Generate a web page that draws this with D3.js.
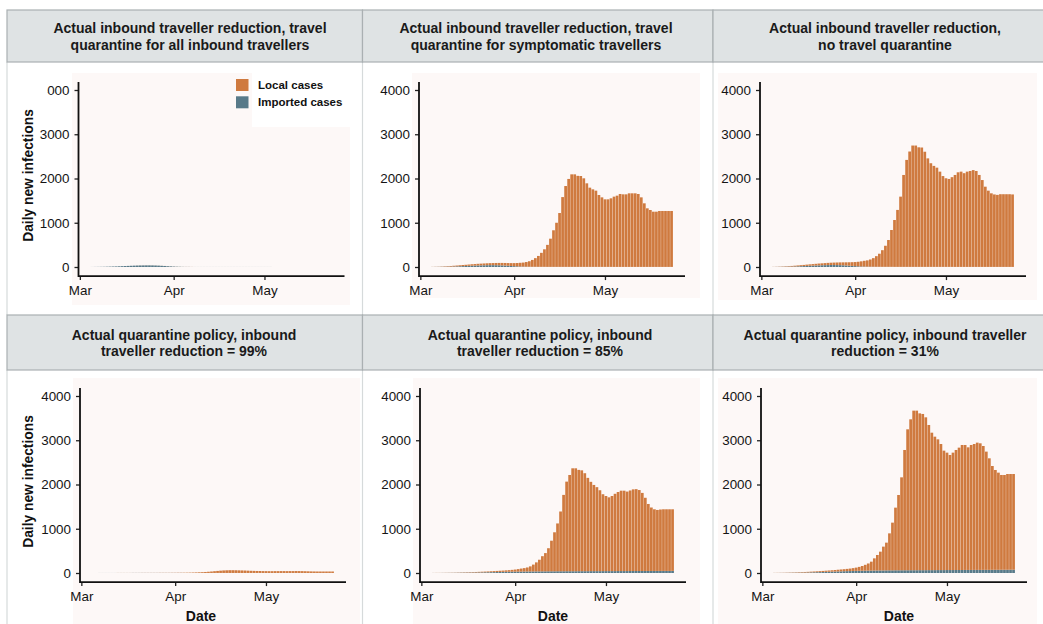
<!DOCTYPE html>
<html>
<head>
<meta charset="utf-8">
<script src="https://cdn.jsdelivr.net/npm/d3@7"></script>
<style>
  body { margin: 0; background: #ffffff; }
  svg { display: block; }
  text { font-family: "Liberation Sans", Arial, Helvetica, sans-serif; }
</style>
</head>
<body>
<svg id="chart" width="1043" height="624"></svg>
<script>
// ---- Data: daily new infections, 5 March to 23 May 2020 ----
const firstDay = "2020-03-05";
const lastDay = "2020-05-23";
const monthTicks = ["2020-03-01", "2020-04-01", "2020-05-01"];
const yTicks = [0, 1000, 2000, 3000, 4000];
const seriesNames = ["Local cases", "Imported cases"];

const panelTitles = [
  ["Actual inbound traveller reduction, travel", "quarantine for all inbound travellers"],
  ["Actual inbound traveller reduction, travel", "quarantine for symptomatic travellers"],
  ["Actual inbound traveller reduction,", "no travel quarantine"],
  ["Actual quarantine policy, inbound", "traveller reduction = 99%"],
  ["Actual quarantine policy, inbound", "traveller reduction = 85%"],
  ["Actual quarantine policy, inbound traveller", "reduction = 31%"]
];

// Travel quarantine for all inbound travellers
const localAllQuarantine = [
  0,0,0,0,0,0,0,0,0,0, 0,0,0,0,0,1,1,1,1,1,
  1,1,1,1,1,1,1,1,1,1, 1,1,1,1,0,0,0,0,0,0,
  0,0,0,0,0,0,0,0,0,0, 0,0,0,0,0,0,0,0,0,0,
  0,0,0,0,0,0,0,0,0,0, 0,0,0,0,0,0,0,0,0,0];
const importedAllQuarantine = [
  1,2,3,4,5,7,9,11,13,16, 19,22,25,28,31,33,35,36,37,37,
  36,34,31,27,23,18,14,10,7,5, 3,2,2,1,1,1,1,1,1,1,
  1,1,1,1,1,1,1,1,1,1, 1,1,1,1,1,1,1,1,1,1,
  0,0,0,0,0,0,0,0,0,0, 0,0,0,0,0,0,0,0,0,0];

// Travel quarantine for symptomatic travellers
const localSymptomatic = [
  2,3,4,6,9,11,14,17,19,22, 25,27,30,33,35,37,39,41,43,45,
  47,50,53,56,59,61,65,69,75,84, 91,105,124,155,195,246,316,396,497,637,
  827,997,1217,1577,1827,1987,2091,2091,2057,2053, 2001,1888,1790,1752,1722,1624,1571,1526,1526,1549,
  1588,1610,1648,1640,1640,1663,1663,1663,1648,1572, 1437,1324,1286,1248,1248,1264,1264,1264,1264,1264];
const importedSymptomatic = [
  1,2,3,4,5,7,9,11,14,17, 20,23,26,29,32,35,37,39,41,42,
  42,41,39,36,32,28,23,19,15,11, 9,7,6,5,5,4,4,4,3,3,
  3,3,3,3,3,3,3,3,3,3, 3,3,3,3,3,3,3,3,3,3,
  2,2,2,2,2,2,2,2,2,2, 2,2,2,2,2,2,2,2,2,2];

// No travel quarantine
const localNoQuarantine = [
  2,3,5,7,9,11,14,17,20,23, 26,30,32,35,38,41,43,46,49,52,
  55,58,62,66,71,77,84,92,102,116, 130,142,163,194,240,295,376,476,606,832,
  1059,1287,1587,2077,2417,2607,2742,2742,2702,2697, 2602,2452,2342,2282,2242,2152,2052,2002,1987,2027,
  2078,2138,2153,2118,2153,2168,2188,2168,2078,1963, 1813,1723,1663,1638,1628,1643,1643,1643,1643,1638];
const importedNoQuarantine = [
  1,2,3,4,6,8,10,12,15,18, 21,24,28,31,34,37,40,42,44,45,
  45,44,42,39,35,30,25,20,16,12, 10,8,7,6,5,5,4,4,4,4,
  3,3,3,3,3,3,3,3,3,3, 3,3,3,3,3,3,3,3,3,3,
  2,2,2,2,2,2,2,2,2,2, 2,2,2,2,2,2,2,2,2,2];

// Actual quarantine policy, inbound traveller reduction = 99%
const localReduction99 = [
  0,0,0,0,0,0,0,0,1,1, 1,1,1,1,1,1,2,2,2,2,
  2,2,3,3,3,3,4,4,5,5, 6,7,8,10,12,15,18,22,27,33,
  40,46,52,57,60,62,62,61,59,57, 55,52,49,47,45,44,42,41,40,40,
  41,41,42,42,41,42,42,43,42,41, 39,37,35,34,33,33,33,33,33,33];
const importedReduction99 = [
  0,0,1,1,1,1,1,1,1,1, 1,1,1,2,2,2,2,2,2,2,
  2,2,2,2,2,2,2,2,2,2, 1,1,1,1,1,1,1,1,1,1,
  1,1,1,1,1,1,1,1,1,1, 1,1,1,1,1,1,1,1,1,1,
  1,1,1,1,1,1,1,1,1,1, 1,1,1,1,1,1,1,1,1,1];

// Actual quarantine policy, inbound traveller reduction = 85%
const localReduction85 = [
  1,2,2,2,3,3,4,4,5,6, 7,8,9,10,11,13,15,16,18,20,
  23,25,28,30,34,37,42,48,57,68, 77,91,115,155,204,264,343,413,522,692,
  882,1081,1351,1726,2025,2175,2326,2326,2289,2279, 2214,2109,2018,1948,1898,1828,1737,1697,1667,1697,
  1747,1786,1816,1816,1796,1820,1845,1850,1830,1765, 1654,1514,1434,1394,1378,1388,1393,1393,1393,1392];
const importedReduction85 = [
  1,1,1,2,2,3,3,4,5,6, 7,8,9,10,12,13,14,16,17,19,
  20,22,23,25,26,28,29,30,31,32, 33,34,35,35,36,36,37,37,38,38,
  38,39,39,39,40,40,40,40,41,41, 41,41,42,42,42,42,43,43,43,43,
  43,44,44,44,44,45,45,45,45,45, 46,46,46,46,47,47,47,47,47,48];

// Actual quarantine policy, inbound traveller reduction = 31%
const localReduction31 = [
  2,3,3,4,5,6,7,8,10,11, 13,14,16,18,20,22,25,27,30,32,
  36,39,43,46,51,56,64,74,88,106, 132,161,201,275,350,424,538,627,836,1078,
  1416,1702,2100,2718,3185,3410,3606,3606,3544,3530, 3454,3280,3106,3016,2955,2849,2699,2653,2600,2653,
  2712,2765,2825,2824,2771,2824,2845,2876,2861,2799, 2672,2521,2346,2256,2196,2142,2142,2164,2163,2163];
const importedReduction31 = [
  1,1,2,2,3,4,5,6,7,9, 10,12,14,16,18,20,22,25,27,30,
  32,35,37,40,42,44,46,48,50,52, 53,54,55,56,57,58,58,59,60,60,
  61,61,62,62,62,63,63,63,64,64, 64,65,65,65,66,66,66,67,67,67,
  68,68,68,69,69,69,70,70,70,71, 71,71,72,72,72,73,73,73,74,74];

const panelLocal = [localAllQuarantine, localSymptomatic, localNoQuarantine,
                    localReduction99, localReduction85, localReduction31];
const panelImported = [importedAllQuarantine, importedSymptomatic, importedNoQuarantine,
                       importedReduction99, importedReduction85, importedReduction31];

// ---- Layout and styling ----
const colours = { local: "#cf7a3f", imported: "#587a89" };
const stripFill = "#dfe3e4", stripLine = "#aab0b2";
const plotFill = "#fdf8f7";
const fontStack = "\"Liberation Sans\", Arial, Helvetica, sans-serif";

const columns = [{ x0: 7, x1: 362.5 }, { x0: 362.5, x1: 713 }, { x0: 713, x1: 1062 }];
const rows = [
  { stripTop: 10, stripBottom: 62, line1: 33.3, zeroY: 267, bodyBottom: 315 },
  { stripTop: 315, stripBottom: 370, line1: 339.6, zeroY: 573, bodyBottom: 624 }
];
const panels = [
  { row: 0, col: 0, axisX: 78.5, titleX: 190, bg: [72, 73, 350, 305] },
  { row: 0, col: 1, axisX: 419, titleX: 536, bg: [412, 73, 700, 298] },
  { row: 0, col: 2, axisX: 760, titleX: 885, bg: [718, 73, 1037, 300] },
  { row: 1, col: 0, axisX: 80, titleX: 184, dateX: 201, bg: [73, 378, 360, 624] },
  { row: 1, col: 1, axisX: 420, titleX: 540, dateX: 553, bg: [413, 378, 700, 624] },
  { row: 1, col: 2, axisX: 761, titleX: 885, dateX: 899, bg: [718, 378, 1037, 624] }
];
const plotWidth = 266;      // x-axis line length
const px4000 = 177;         // pixels spanned by 0..4000

const parse = d3.utcParse("%Y-%m-%d");
const days = d3.utcDay.range(parse(firstDay), d3.utcDay.offset(parse(lastDay), 1));
const dayMs = 864e5;

const svg = d3.select("#chart");

// Panel bodies: left rule and soft plot background
panels.forEach(p => {
  const r = rows[p.row], c = columns[p.col];
  svg.append("line")
    .attr("x1", c.x0).attr("x2", c.x0)
    .attr("y1", r.stripBottom).attr("y2", r.bodyBottom)
    .attr("stroke", "#d6dadb").attr("stroke-width", 1.2);
  svg.append("rect")
    .attr("x", p.bg[0]).attr("y", p.bg[1])
    .attr("width", p.bg[2] - p.bg[0]).attr("height", p.bg[3] - p.bg[1])
    .attr("fill", plotFill);
});

// Facet strips with two-line titles
panels.forEach((p, i) => {
  const r = rows[p.row], c = columns[p.col];
  svg.append("rect")
    .attr("x", c.x0).attr("y", r.stripTop)
    .attr("width", c.x1 - c.x0).attr("height", r.stripBottom - r.stripTop)
    .attr("fill", stripFill).attr("stroke", stripLine).attr("stroke-width", 1.2);
  const t = svg.append("text")
    .attr("text-anchor", "middle")
    .attr("font-size", 14).attr("font-weight", "bold").attr("fill", "#1a1a1a");
  panelTitles[i].forEach((line, k) => {
    t.append("tspan").attr("x", p.titleX).attr("y", r.line1 + k * 16.4).text(line);
  });
});

// Bars, axes and labels
panels.forEach((p, i) => {
  const r = rows[p.row];
  const rowsData = days.map((d, k) => ({ date: d, imported: panelImported[i][k], local: panelLocal[i][k] }));
  const stacked = d3.stack().keys(["imported", "local"])(rowsData);

  // 5% expansion around the bar extent
  const lo = +days[0] - 0.45 * dayMs, hi = +days[days.length - 1] + 0.45 * dayMs;
  const pad = 0.05 * (hi - lo);
  const x = d3.scaleUtc().domain([new Date(lo - pad), new Date(hi + pad)])
    .range([p.axisX, p.axisX + plotWidth]);
  const y = d3.scaleLinear().domain([0, 4000]).range([r.zeroY, r.zeroY - px4000]);
  const bw = (x(new Date(+days[0] + dayMs)) - x(days[0])) * 0.9;

  const g = svg.append("g");
  g.selectAll("g.series").data(stacked).join("g")
    .attr("fill", s => colours[s.key])
    .selectAll("rect").data(s => s).join("rect")
    .attr("x", d => x(d.data.date) - bw / 2)
    .attr("width", bw)
    .attr("y", d => y(d[1]))
    .attr("height", d => Math.max(0, y(d[0]) - y(d[1])));

  const yTop = y(4180), yBottom = y(-205);

  // y axis
  const ya = svg.append("g").attr("transform", `translate(${p.axisX},0)`)
    .call(d3.axisLeft(y).tickValues(yTicks).tickSize(4).tickPadding(5).tickFormat(d3.format("d")));
  ya.select(".domain").remove();
  ya.selectAll(".tick line").attr("stroke", "#222").attr("stroke-width", 1.3);
  ya.selectAll(".tick text").attr("font-size", 13.4).attr("fill", "#141414")
    .attr("font-family", fontStack);

  // x axis
  const xa = svg.append("g").attr("transform", `translate(0,${yBottom})`)
    .call(d3.axisBottom(x).tickValues(monthTicks.map(parse)).tickSize(4).tickPadding(5)
      .tickFormat(d3.utcFormat("%b")));
  xa.select(".domain").remove();
  xa.selectAll(".tick line").attr("stroke", "#222").attr("stroke-width", 1.3);
  xa.selectAll(".tick text").attr("font-size", 13.4).attr("fill", "#141414")
    .attr("font-family", fontStack);

  // axis lines
  svg.append("path")
    .attr("d", `M${p.axisX},${yTop}V${yBottom}H${p.axisX + plotWidth}`)
    .attr("fill", "none").attr("stroke", "#111").attr("stroke-width", 1.8);

  if (p.col === 0) {
    svg.append("text")
      .attr("transform", `translate(33,${(r.zeroY - px4000 / 2) - 3}) rotate(-90)`)
      .attr("text-anchor", "middle")
      .attr("font-size", 13.8).attr("font-weight", "bold").attr("fill", "#111")
      .text("Daily new infections");
  }
  if (p.row === 1) {
    svg.append("text")
      .attr("x", p.dateX).attr("y", 621)
      .attr("text-anchor", "middle")
      .attr("font-size", 14).attr("font-weight", "bold").attr("fill", "#111")
      .text("Date");
  }
});

// The first panel's top tick label is partly hidden under a white margin
svg.append("rect").attr("x", 28).attr("y", 81).attr("width", 19).attr("height", 18).attr("fill", "#ffffff");

// Legend in the first panel
const legend = svg.append("g");
legend.append("rect").attr("x", 252).attr("y", 73).attr("width", 98).attr("height", 54).attr("fill", "#ffffff");
[["local", seriesNames[0]], ["imported", seriesNames[1]]].forEach(([key, label], k) => {
  legend.append("rect")
    .attr("x", 236).attr("y", 79 + k * 17.3)
    .attr("width", 12.5).attr("height", 12)
    .attr("fill", colours[key]);
  legend.append("text")
    .attr("x", 258).attr("y", 85 + k * 17.3).attr("dy", "0.35em")
    .attr("font-size", 11.5).attr("font-weight", "bold").attr("fill", "#111")
    .text(label);
});
</script>
</body>
</html>
